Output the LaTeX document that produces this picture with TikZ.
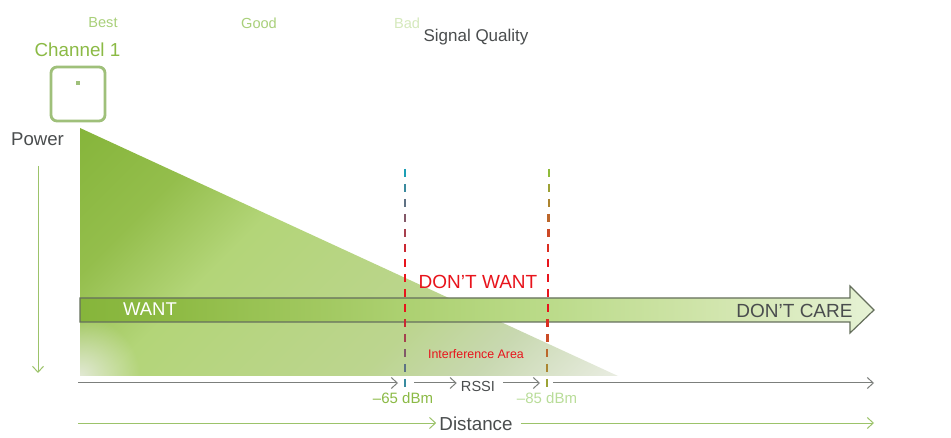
\documentclass[tikz,border=0pt]{standalone}
\usepackage{fontspec}
\setmainfont{Liberation Sans}
\usetikzlibrary{arrows.meta,fadings,calc}
\definecolor{gdark}{HTML}{86B53B}
\definecolor{gdk}{HTML}{94BE4C}
\definecolor{gmid}{HTML}{B3D578}
\definecolor{gm2}{HTML}{BCD58F}
\definecolor{gpale}{HTML}{C8D8B0}
\definecolor{gtip}{HTML}{E8ECE0}
\definecolor{boxgreen}{HTML}{9FC07A}
\definecolor{labgreen}{HTML}{A9D07A}
\definecolor{chgreen}{HTML}{8BBA45}
\definecolor{paleLab}{HTML}{D5E9BC}
\definecolor{dbmlight}{HTML}{B9DD99}
\definecolor{inkgray}{HTML}{4A4D4E}
\definecolor{linegray}{HTML}{7C7F7C}
\definecolor{linegreen}{HTML}{9CC36A}
\definecolor{bandedge}{HTML}{656F5C}
\definecolor{tealdash}{HTML}{1C9FB5}
\definecolor{olivedash}{HTML}{8FBB3A}
\definecolor{reddash}{HTML}{E8141C}
\pgfdeclarehorizontalshading{trishade}{100bp}{
 color(0bp)=(gdark); color(32.6bp)=(gdark); color(39bp)=(gdk); color(44.7bp)=(gmid); color(56bp)=(gm2);
 color(61bp)=(gpale); color(67.2bp)=(gtip); color(100bp)=(gtip)}
\definecolor{b1}{HTML}{86B53B}
\definecolor{b2}{HTML}{8FBB45}
\definecolor{b3}{HTML}{ACD070}
\definecolor{b4}{HTML}{BBDB8A}
\definecolor{b5}{HTML}{CFE4A9}
\definecolor{b6}{HTML}{E6F2D5}
\pgfdeclarehorizontalshading{bandshade}{100bp}{
 color(0bp)=(b1); color(25bp)=(b1); color(31.3bp)=(b2); color(45.1bp)=(b3);
 color(54.6bp)=(b4); color(64bp)=(b5); color(75bp)=(b6); color(100bp)=(b6)}
\tikzfading[name=cornerfade, inner color=transparent!10, outer color=transparent!100]
\tikzset{
 lab/.style={font=\fontsize{#1}{#1}\selectfont, inner sep=0pt},
 grayarrow/.style={draw=linegray, line width=1pt, -{Straight Barb[length=6pt,width=11pt,line width=1pt]}},
 greenarrow/.style={draw=linegreen, line width=1pt, -{Straight Barb[length=6pt,width=11pt,line width=1pt]}},
 apbox/.style={draw=boxgreen, line width=2.8pt, rounded corners=6pt, minimum size=54pt, inner sep=0pt},
}
\begin{document}
\begin{tikzpicture}[x=1pt,y=-1pt]
\useasboundingbox (0,0) rectangle (951,438);
\fill[white] (0,0) rectangle (951,438);
% triangle
\begin{scope}
 \clip (80,128) -- (618,376) -- (80,376) -- cycle;
 \shade[shading=trishade, shading angle=-45] (-51,-148) rectangle (749,652);
 \fill[color=gtip, path fading=cornerfade] (80,376) circle (60);
\end{scope}
% band arrow
\path[shading=bandshade] (80,298) -- (850,298) -- (850,286) -- (874,310) -- (850,333) -- (850,322) -- (80,322) -- cycle;
\draw[bandedge, line width=1.2pt, line join=miter] (80,298) -- (850,298) -- (850,286) -- (874,310) -- (850,333) -- (850,322) -- (80,322) -- cycle;
% AP
\node[apbox] (ap) at (78,94) {};
\fill[boxgreen] (76,81) rectangle (80,85);
% dashed lines
\foreach \n in {0,...,14}{
 \pgfmathsetmacro{\yy}{169+15*\n}
 \pgfmathsetmacro{\mixp}{max(0,min(100,100*(1-(abs(\yy+4-285)-25)/85)))}
 \pgfmathsetmacro{\xx}{549-2*\n/14}
 \draw[color=reddash!\mixp!tealdash, line width=2.4pt] (405,\yy) -- (405,\yy+8);
 \draw[color=reddash!\mixp!olivedash, line width=2.4pt] (\xx,\yy) -- (\xx,\yy+8);
}
% labels
\node[lab=14.6, text=labgreen] (best) at (103,23) {Best};
\node[lab=14.6, text=labgreen] (good) at (259,23) {Good};
\node[lab=14.6, text=paleLab] (bad) at (407,23) {Bad};
\node[lab=17, text=inkgray] (sq) at (476,37) {Signal Quality};
\node[lab=18.8, text=chgreen] (ch) at (77.5,50) {Channel 1};
\node[lab=18.6, text=inkgray] (pw) at (37.5,139) {Power};
\node[lab=18.5, text=white] (want) at (150,309) {WANT};
\node[lab=19, text=reddash] (dw) at (478,282) {DON’T WANT};
\node[lab=19, text=inkgray] (dc) at (794.5,311) {DON’T CARE};
\node[lab=12.4, text=reddash] (ia) at (476,354) {Interference Area};
\node[lab=14.6, text=inkgray] (rssi) at (478,386) {RSSI};
\node[lab=15, text=chgreen] (m65) at (403,398) {–65 dBm};
\node[lab=15, text=dbmlight] (m85) at (547,398) {–85 dBm};
\node[lab=18.8, text=inkgray] (dist) at (476,424) {Distance};
% connectors
\coordinate (g0) at (78,383);
\coordinate (g1) at (398,383);
\coordinate (g2) at (414,383);
\coordinate (g3) at (540,383);
\coordinate (g4) at (553,383);
\coordinate (g5) at (874,383);
\draw[grayarrow] (g0) -- (g1);
\draw[grayarrow] (g2) -- ($(rssi.west |- g2)+(-4,0)$);
\draw[grayarrow] ($(rssi.east |- g3)+(8,0)$) -- (g3);
\draw[grayarrow] (g4) -- (g5);
\coordinate (d0) at (78,423);
\coordinate (d1) at (874,423);
\draw[greenarrow] (d0) -- ($(dist.west |- d0)+(-3,0)$);
\draw[greenarrow] ($(dist.east |- d1)+(8,0)$) -- (d1);
\coordinate (p0) at (38,166);
\coordinate (p1) at (38,373);
\draw[greenarrow] (p0) -- (p1);
\end{tikzpicture}
\end{document}
